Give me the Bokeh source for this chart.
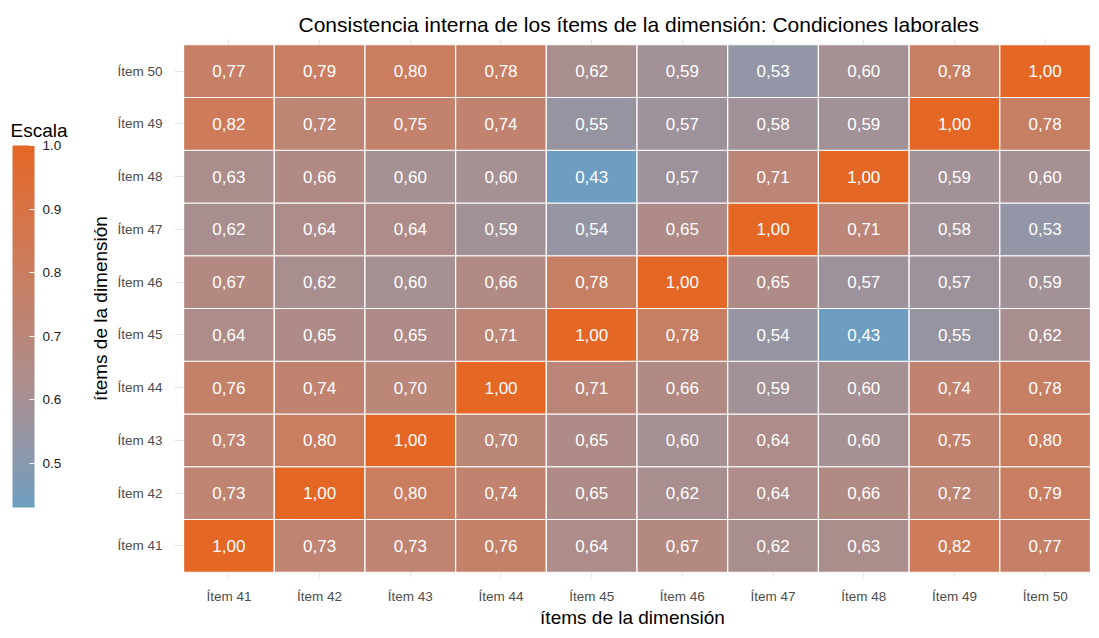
from bokeh.plotting import figure
from bokeh.layouts import row
from bokeh.models import (ColumnDataSource, LinearColorMapper, ColorBar, FixedTicker,
                          PrintfTickFormatter, Range1d, Label)
from bokeh.core.properties import value
from bokeh.embed import file_html
from bokeh.resources import INLINE

# ---------------- data ----------------
items = ["Ítem 41", "Ítem 42", "Ítem 43", "Ítem 44", "Ítem 45",
         "Ítem 46", "Ítem 47", "Ítem 48", "Ítem 49", "Ítem 50"]

# rows: y item (41..50); columns: x item (41..50)
row_41 = [1.00, 0.73, 0.73, 0.76, 0.64, 0.67, 0.62, 0.63, 0.82, 0.77]
row_42 = [0.73, 1.00, 0.80, 0.74, 0.65, 0.62, 0.64, 0.66, 0.72, 0.79]
row_43 = [0.73, 0.80, 1.00, 0.70, 0.65, 0.60, 0.64, 0.60, 0.75, 0.80]
row_44 = [0.76, 0.74, 0.70, 1.00, 0.71, 0.66, 0.59, 0.60, 0.74, 0.78]
row_45 = [0.64, 0.65, 0.65, 0.71, 1.00, 0.78, 0.54, 0.43, 0.55, 0.62]
row_46 = [0.67, 0.62, 0.60, 0.66, 0.78, 1.00, 0.65, 0.57, 0.57, 0.59]
row_47 = [0.62, 0.64, 0.64, 0.59, 0.54, 0.65, 1.00, 0.71, 0.58, 0.53]
row_48 = [0.63, 0.66, 0.60, 0.60, 0.43, 0.57, 0.71, 1.00, 0.59, 0.60]
row_49 = [0.82, 0.72, 0.75, 0.74, 0.55, 0.57, 0.58, 0.59, 1.00, 0.78]
row_50 = [0.77, 0.79, 0.80, 0.78, 0.62, 0.59, 0.53, 0.60, 0.78, 1.00]
rows = [row_41, row_42, row_43, row_44, row_45, row_46, row_47, row_48, row_49, row_50]

legend_ticks = [0.5, 0.6, 0.7, 0.8, 0.9, 1.0]

LOW_COLOR = "#6D9EC1"
HIGH_COLOR = "#E46726"
FONT = "Liberation Sans"

# ---------------- Lab gradient palette (like ggplot's scale_fill_gradient) ----------------
def _hex_to_rgb(h):
    h = h.lstrip("#")
    return [int(h[i:i + 2], 16) / 255.0 for i in (0, 2, 4)]

def _lin(c):
    return c / 12.92 if c <= 0.04045 else ((c + 0.055) / 1.055) ** 2.4

def _gam(c):
    c = max(0.0, min(1.0, c))
    return 12.92 * c if c <= 0.0031308 else 1.055 * c ** (1 / 2.4) - 0.055

WX, WY, WZ = 0.95047, 1.0, 1.08883

def _f(t):
    return t ** (1 / 3) if t > 216 / 24389 else (24389 / 27 * t + 16) / 116

def _finv(t):
    return t ** 3 if t ** 3 > 216 / 24389 else (116 * t - 16) / (24389 / 27)

def hex_to_lab(h):
    r, g, b = [_lin(c) for c in _hex_to_rgb(h)]
    X = 0.4124564 * r + 0.3575761 * g + 0.1804375 * b
    Y = 0.2126729 * r + 0.7151522 * g + 0.0721750 * b
    Z = 0.0193339 * r + 0.1191920 * g + 0.9503041 * b
    fx, fy, fz = _f(X / WX), _f(Y / WY), _f(Z / WZ)
    return (116 * fy - 16, 500 * (fx - fy), 200 * (fy - fz))

def lab_to_hex(L, a, b):
    fy = (L + 16) / 116
    fx = fy + a / 500
    fz = fy - b / 200
    X, Y, Z = WX * _finv(fx), WY * _finv(fy), WZ * _finv(fz)
    r = 3.2404542 * X - 1.5371385 * Y - 0.4985314 * Z
    g = -0.9692660 * X + 1.8760108 * Y + 0.0415560 * Z
    bb = 0.0556434 * X - 0.2040259 * Y + 1.0572252 * Z
    return "#%02x%02x%02x" % tuple(int(round(_gam(c) * 255)) for c in (r, g, bb))

lab_lo, lab_hi = hex_to_lab(LOW_COLOR), hex_to_lab(HIGH_COLOR)
N = 256
palette = [lab_to_hex(*[lo + (hi - lo) * i / (N - 1) for lo, hi in zip(lab_lo, lab_hi)])
           for i in range(N)]

# ---------------- source ----------------
xs, ys, vals, labels = [], [], [], []
for r, rw in enumerate(rows):
    for c, v in enumerate(rw):
        xs.append(c + 1)
        ys.append(r + 1)
        vals.append(v)
        labels.append(("%.2f" % v).replace(".", ","))
src = ColumnDataSource(dict(x=xs, y=ys, v=vals, label=labels))

mapper = LinearColorMapper(palette=palette, low=min(vals), high=max(vals))

# ---------------- layout constants ----------------
H = 630
LW = 80                      # legend strip width
W = 1090 - LW                # main figure width
BL, BR, BT, BB = 174 - LW, 0, 39, 50
X0, X1, Y0, Y1 = 0.4, 10.5, 0.4, 10.6

# ---------------- legend strip (frame aligned with main figure's frame) ----------------
leg = figure(width=LW, height=H, output_backend="svg", toolbar_location=None,
             x_range=Range1d(0, LW), y_range=Range1d(BB, H - BT),
             x_axis_location=None, y_axis_location=None,
             min_border_left=0, min_border_right=0, min_border_top=BT, min_border_bottom=BB)
leg.grid.visible = False
leg.outline_line_color = None
leg.background_fill_color = "white"
leg.border_fill_color = "white"

cb = ColorBar(color_mapper=mapper, location=(12, (H - BB) - 510), width=22, height=362,
              padding=0, margin=0, title=None,
              ticker=FixedTicker(ticks=legend_ticks),
              formatter=PrintfTickFormatter(format="%.1f"),
              major_tick_line_color="white", major_tick_in=5, major_tick_out=0,
              minor_tick_line_color=None, bar_line_color=None,
              label_standoff=8,
              major_label_text_font=FONT, major_label_text_font_size="13.5px",
              major_label_text_color="#1A1A1A",
              background_fill_alpha=0, border_line_color=None)
leg.add_layout(cb, "center")
leg.add_layout(Label(x=10, y=H - 131, text="Escala", text_font=FONT, text_font_size="19px",
                     text_color="black", text_baseline="alphabetic", text_align="left"))

# ---------------- main figure ----------------
p = figure(width=W, height=H, output_backend="svg", toolbar_location=None,
           x_range=Range1d(X0, X1), y_range=Range1d(Y0, Y1),
           min_border_left=BL, min_border_right=BR, min_border_top=BT, min_border_bottom=BB,
           title="Consistencia interna de los ítems de la dimensión: Condiciones laborales")

p.title.align = "left"
p.title.offset = 298 - 174
p.title.text_font = FONT
p.title.text_font_size = "21px"
p.title.text_font_style = "normal"
p.title.text_color = "black"
p.title.standoff = 7

p.rect(x="x", y="y", width=1, height=1, source=src,
       fill_color={"field": "v", "transform": mapper},
       line_color="white", line_width=1.2)
p.text(x="x", y="y", text="label", source=src, text_color="white",
       text_align="center", text_baseline="middle",
       text_font=value(FONT), text_font_size="17px")

overrides = {i + 1: lbl for i, lbl in enumerate(items)}
for ax in (p.xaxis[0], p.yaxis[0]):
    ax.ticker = FixedTicker(ticks=list(range(1, len(items) + 1)))
    ax.major_label_overrides = overrides
    ax.axis_line_color = None
    ax.major_tick_line_color = None
    ax.major_tick_out = 0
    ax.major_tick_in = 0
    ax.minor_tick_line_color = None
    ax.minor_tick_out = 0
    ax.major_label_text_font = FONT
    ax.major_label_text_font_size = "13.5px"
    ax.major_label_text_color = "#4D4D4D"
    ax.axis_label_text_font = FONT
    ax.axis_label_text_font_size = "19px"
    ax.axis_label_text_font_style = "normal"
    ax.axis_label_text_color = "black"

p.xaxis.axis_label = "ítems de la dimensión"
p.yaxis.axis_label = "ítems de la dimensión"
p.xaxis.major_label_standoff = 11
p.xaxis.axis_label_standoff = 0
p.yaxis.major_label_standoff = 12
p.yaxis.axis_label_standoff = 3

p.xgrid.ticker = FixedTicker(ticks=list(range(1, len(items) + 1)))
p.ygrid.ticker = FixedTicker(ticks=list(range(1, len(items) + 1)))
p.grid.grid_line_color = "#E3E3E3"
p.grid.grid_line_width = 1
p.outline_line_color = None
p.background_fill_color = "white"
p.border_fill_color = "white"

layout = row(leg, p, spacing=0)
open("out.html", "w").write(file_html(layout, INLINE))
